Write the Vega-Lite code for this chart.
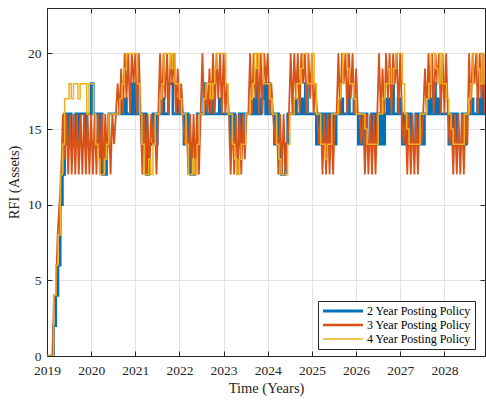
{
"$schema": "https://vega.github.io/schema/vega-lite/v6.json",
"width": 438, "height": 348,
"autosize": "none",
"padding": {"left": 47, "top": 8, "right": 1, "bottom": 44},
"config": {
 "view": {"stroke": "#262626", "strokeWidth": 1},
 "axis": {"labelFont": "Liberation Serif", "labelFontSize": 13.5, "labelColor": "#262626", "titleFont": "Liberation Serif", "titleFontSize": 14.5, "titleFontWeight": "normal", "titleColor": "#262626", "domainColor": "#262626", "tickColor": "#262626", "tickSize": -5, "gridColor": "#e3e3e3", "grid": true, "labelFlush": false}
},
"datasets": {
"w": [
{"t":2019.00,"a":0,"c":0},{"t":2019.05,"a":0,"c":0},{"t":2019.10,"a":0,"c":0},{"t":2019.15,"a":2,"c":4},{"t":2019.20,"a":4,"c":6},
{"t":2019.25,"a":6,"c":8},{"t":2019.30,"a":10,"c":12},{"t":2019.35,"a":12,"c":14},{"t":2019.40,"a":16,"c":17},{"t":2019.45,"a":14,"c":17},
{"t":2019.50,"a":16,"c":18},{"t":2019.55,"a":14,"c":17},{"t":2019.60,"a":14,"c":18},{"t":2019.65,"a":16,"c":18},{"t":2019.70,"a":14,"c":17},
{"t":2019.75,"a":16,"c":18},{"t":2019.80,"a":16,"c":18},{"t":2019.85,"a":14,"c":18},{"t":2019.90,"a":16,"c":16},{"t":2019.95,"a":16,"c":18},
{"t":2020.00,"a":18,"c":18},{"t":2020.05,"a":16,"c":16},{"t":2020.10,"a":16,"c":14},{"t":2020.15,"a":14,"c":13},{"t":2020.20,"a":16,"c":12},
{"t":2020.25,"a":12,"c":12},{"t":2020.30,"a":12,"c":13},{"t":2020.35,"a":14,"c":14},{"t":2020.40,"a":16,"c":16},{"t":2020.45,"a":16,"c":16},
{"t":2020.50,"a":16,"c":16},{"t":2020.55,"a":16,"c":16},{"t":2020.60,"a":16,"c":16},{"t":2020.65,"a":17,"c":17},{"t":2020.70,"a":16,"c":18},
{"t":2020.75,"a":17,"c":19},{"t":2020.80,"a":16,"c":20},{"t":2020.85,"a":16,"c":20},{"t":2020.90,"a":18,"c":20},{"t":2020.95,"a":16,"c":20},
{"t":2021.00,"a":18,"c":20},{"t":2021.05,"a":16,"c":18},{"t":2021.10,"a":16,"c":16},{"t":2021.15,"a":14,"c":14},{"t":2021.20,"a":16,"c":12},
{"t":2021.25,"a":12,"c":12},{"t":2021.30,"a":14,"c":13},{"t":2021.35,"a":14,"c":12},{"t":2021.40,"a":16,"c":14},{"t":2021.45,"a":14,"c":16},
{"t":2021.50,"a":16,"c":16},{"t":2021.55,"a":16,"c":17},{"t":2021.60,"a":17,"c":18},{"t":2021.65,"a":16,"c":20},{"t":2021.70,"a":16,"c":20},
{"t":2021.75,"a":18,"c":20},{"t":2021.80,"a":18,"c":19},{"t":2021.85,"a":16,"c":20},{"t":2021.90,"a":16,"c":18},{"t":2021.95,"a":17,"c":18},
{"t":2022.00,"a":16,"c":17},{"t":2022.05,"a":16,"c":16},{"t":2022.10,"a":14,"c":16},{"t":2022.15,"a":16,"c":14},{"t":2022.20,"a":14,"c":12},
{"t":2022.25,"a":12,"c":12},{"t":2022.30,"a":12,"c":13},{"t":2022.35,"a":14,"c":12},{"t":2022.40,"a":16,"c":14},{"t":2022.45,"a":16,"c":16},
{"t":2022.50,"a":16,"c":16},{"t":2022.55,"a":18,"c":17},{"t":2022.60,"a":16,"c":18},{"t":2022.65,"a":16,"c":18},{"t":2022.70,"a":17,"c":17},
{"t":2022.75,"a":16,"c":18},{"t":2022.80,"a":16,"c":19},{"t":2022.85,"a":16,"c":20},{"t":2022.90,"a":17,"c":20},{"t":2022.95,"a":16,"c":20},
{"t":2023.00,"a":16,"c":20},{"t":2023.05,"a":16,"c":18},{"t":2023.10,"a":16,"c":16},{"t":2023.15,"a":14,"c":16},{"t":2023.20,"a":16,"c":14},
{"t":2023.25,"a":14,"c":13},{"t":2023.30,"a":14,"c":12},{"t":2023.35,"a":16,"c":13},{"t":2023.40,"a":14,"c":14},{"t":2023.45,"a":16,"c":14},
{"t":2023.50,"a":16,"c":16},{"t":2023.55,"a":16,"c":16},{"t":2023.60,"a":16,"c":17},{"t":2023.65,"a":17,"c":18},{"t":2023.70,"a":16,"c":20},
{"t":2023.75,"a":18,"c":19},{"t":2023.80,"a":16,"c":20},{"t":2023.85,"a":17,"c":20},{"t":2023.90,"a":18,"c":18},{"t":2023.95,"a":16,"c":18},
{"t":2024.00,"a":18,"c":18},{"t":2024.05,"a":16,"c":17},{"t":2024.10,"a":16,"c":16},{"t":2024.15,"a":14,"c":16},{"t":2024.20,"a":16,"c":14},
{"t":2024.25,"a":14,"c":13},{"t":2024.30,"a":12,"c":12},{"t":2024.35,"a":12,"c":12},{"t":2024.40,"a":14,"c":12},{"t":2024.45,"a":16,"c":14},
{"t":2024.50,"a":16,"c":16},{"t":2024.55,"a":16,"c":16},{"t":2024.60,"a":17,"c":17},{"t":2024.65,"a":16,"c":18},{"t":2024.70,"a":16,"c":18},
{"t":2024.75,"a":17,"c":19},{"t":2024.80,"a":16,"c":20},{"t":2024.85,"a":18,"c":20},{"t":2024.90,"a":16,"c":18},{"t":2024.95,"a":16,"c":18},
{"t":2025.00,"a":16,"c":20},{"t":2025.05,"a":16,"c":18},{"t":2025.10,"a":14,"c":16},{"t":2025.15,"a":16,"c":16},{"t":2025.20,"a":14,"c":14},
{"t":2025.25,"a":16,"c":14},{"t":2025.30,"a":14,"c":13},{"t":2025.35,"a":16,"c":14},{"t":2025.40,"a":14,"c":14},{"t":2025.45,"a":16,"c":16},
{"t":2025.50,"a":14,"c":16},{"t":2025.55,"a":16,"c":16},{"t":2025.60,"a":16,"c":17},{"t":2025.65,"a":17,"c":18},{"t":2025.70,"a":16,"c":20},
{"t":2025.75,"a":16,"c":20},{"t":2025.80,"a":18,"c":19},{"t":2025.85,"a":16,"c":18},{"t":2025.90,"a":16,"c":18},{"t":2025.95,"a":17,"c":17},
{"t":2026.00,"a":16,"c":16},{"t":2026.05,"a":14,"c":16},{"t":2026.10,"a":16,"c":16},{"t":2026.15,"a":14,"c":16},{"t":2026.20,"a":16,"c":15},
{"t":2026.25,"a":14,"c":14},{"t":2026.30,"a":14,"c":14},{"t":2026.35,"a":16,"c":14},{"t":2026.40,"a":14,"c":14},{"t":2026.45,"a":16,"c":14},
{"t":2026.50,"a":14,"c":16},{"t":2026.55,"a":16,"c":16},{"t":2026.60,"a":14,"c":17},{"t":2026.65,"a":16,"c":18},{"t":2026.70,"a":17,"c":18},
{"t":2026.75,"a":16,"c":19},{"t":2026.80,"a":18,"c":18},{"t":2026.85,"a":16,"c":19},{"t":2026.90,"a":16,"c":20},{"t":2026.95,"a":17,"c":20},
{"t":2027.00,"a":16,"c":20},{"t":2027.05,"a":14,"c":18},{"t":2027.10,"a":16,"c":16},{"t":2027.15,"a":14,"c":15},{"t":2027.20,"a":16,"c":14},
{"t":2027.25,"a":14,"c":14},{"t":2027.30,"a":14,"c":14},{"t":2027.35,"a":16,"c":14},{"t":2027.40,"a":14,"c":14},{"t":2027.45,"a":16,"c":16},
{"t":2027.50,"a":14,"c":16},{"t":2027.55,"a":16,"c":16},{"t":2027.60,"a":16,"c":17},{"t":2027.65,"a":17,"c":18},{"t":2027.70,"a":16,"c":20},
{"t":2027.75,"a":18,"c":20},{"t":2027.80,"a":16,"c":19},{"t":2027.85,"a":17,"c":18},{"t":2027.90,"a":16,"c":20},{"t":2027.95,"a":16,"c":18},
{"t":2028.00,"a":16,"c":18},{"t":2028.05,"a":16,"c":17},{"t":2028.10,"a":14,"c":16},{"t":2028.15,"a":16,"c":15},{"t":2028.20,"a":14,"c":14},
{"t":2028.25,"a":16,"c":14},{"t":2028.30,"a":14,"c":14},{"t":2028.35,"a":14,"c":14},{"t":2028.40,"a":16,"c":14},{"t":2028.45,"a":14,"c":16},
{"t":2028.50,"a":16,"c":16},{"t":2028.55,"a":16,"c":17},{"t":2028.60,"a":17,"c":18},{"t":2028.65,"a":16,"c":20},{"t":2028.70,"a":16,"c":20},
{"t":2028.75,"a":17,"c":19},{"t":2028.80,"a":16,"c":18},{"t":2028.85,"a":18,"c":20},{"t":2028.90,"a":16,"c":18},{"t":2028.95,"a":18,"c":18},{"t":2029.00,"a":18,"c":18}
],
"o": [
{"t":2019.00,"v":0},{"t":2019.04,"v":0},{"t":2019.08,"v":0},{"t":2019.12,"v":0},{"t":2019.16,"v":4},{"t":2019.20,"v":4},{"t":2019.24,"v":8},{"t":2019.28,"v":10},{"t":2019.32,"v":12},{"t":2019.36,"v":16},{"t":2019.40,"v":13},{"t":2019.44,"v":16},{"t":2019.48,"v":12},{"t":2019.52,"v":16},{"t":2019.56,"v":12},{"t":2019.60,"v":16},{"t":2019.64,"v":12},{"t":2019.68,"v":16},{"t":2019.72,"v":12},{"t":2019.76,"v":16},{"t":2019.80,"v":12},{"t":2019.84,"v":16},{"t":2019.88,"v":12},{"t":2019.92,"v":16},{"t":2019.96,"v":12},
{"t":2020.00,"v":16},{"t":2020.04,"v":12},{"t":2020.08,"v":16},{"t":2020.12,"v":12},{"t":2020.16,"v":16},{"t":2020.20,"v":12},{"t":2020.24,"v":16},{"t":2020.28,"v":12},{"t":2020.32,"v":16},{"t":2020.36,"v":13},{"t":2020.40,"v":16},{"t":2020.44,"v":12},{"t":2020.48,"v":16},{"t":2020.52,"v":14},{"t":2020.56,"v":16},{"t":2020.60,"v":18},{"t":2020.64,"v":16},{"t":2020.68,"v":19},{"t":2020.72,"v":16},{"t":2020.76,"v":20},{"t":2020.80,"v":17},{"t":2020.84,"v":20},{"t":2020.88,"v":16},{"t":2020.92,"v":20},{"t":2020.96,"v":18},
{"t":2021.00,"v":20},{"t":2021.04,"v":16},{"t":2021.08,"v":20},{"t":2021.12,"v":16},{"t":2021.16,"v":12},{"t":2021.20,"v":16},{"t":2021.24,"v":12},{"t":2021.28,"v":16},{"t":2021.32,"v":12},{"t":2021.36,"v":16},{"t":2021.40,"v":14},{"t":2021.44,"v":16},{"t":2021.48,"v":12},{"t":2021.52,"v":16},{"t":2021.56,"v":20},{"t":2021.60,"v":16},{"t":2021.64,"v":20},{"t":2021.68,"v":17},{"t":2021.72,"v":20},{"t":2021.76,"v":16},{"t":2021.80,"v":20},{"t":2021.84,"v":18},{"t":2021.88,"v":20},{"t":2021.92,"v":16},{"t":2021.96,"v":19},
{"t":2022.00,"v":16},{"t":2022.04,"v":18},{"t":2022.08,"v":16},{"t":2022.12,"v":14},{"t":2022.16,"v":16},{"t":2022.20,"v":12},{"t":2022.24,"v":16},{"t":2022.28,"v":12},{"t":2022.32,"v":16},{"t":2022.36,"v":12},{"t":2022.40,"v":16},{"t":2022.44,"v":12},{"t":2022.48,"v":16},{"t":2022.52,"v":20},{"t":2022.56,"v":16},{"t":2022.60,"v":18},{"t":2022.64,"v":16},{"t":2022.68,"v":19},{"t":2022.72,"v":16},{"t":2022.76,"v":20},{"t":2022.80,"v":16},{"t":2022.84,"v":20},{"t":2022.88,"v":17},{"t":2022.92,"v":20},{"t":2022.96,"v":16},
{"t":2023.00,"v":20},{"t":2023.04,"v":16},{"t":2023.08,"v":18},{"t":2023.12,"v":16},{"t":2023.16,"v":12},{"t":2023.20,"v":16},{"t":2023.24,"v":12},{"t":2023.28,"v":16},{"t":2023.32,"v":12},{"t":2023.36,"v":16},{"t":2023.40,"v":12},{"t":2023.44,"v":16},{"t":2023.48,"v":13},{"t":2023.52,"v":16},{"t":2023.56,"v":16},{"t":2023.60,"v":20},{"t":2023.64,"v":16},{"t":2023.68,"v":20},{"t":2023.72,"v":17},{"t":2023.76,"v":20},{"t":2023.80,"v":16},{"t":2023.84,"v":20},{"t":2023.88,"v":16},{"t":2023.92,"v":20},{"t":2023.96,"v":18},
{"t":2024.00,"v":20},{"t":2024.04,"v":16},{"t":2024.08,"v":18},{"t":2024.12,"v":16},{"t":2024.16,"v":14},{"t":2024.20,"v":16},{"t":2024.24,"v":12},{"t":2024.28,"v":16},{"t":2024.32,"v":12},{"t":2024.36,"v":16},{"t":2024.40,"v":12},{"t":2024.44,"v":14},{"t":2024.48,"v":16},{"t":2024.52,"v":20},{"t":2024.56,"v":16},{"t":2024.60,"v":20},{"t":2024.64,"v":17},{"t":2024.68,"v":20},{"t":2024.72,"v":16},{"t":2024.76,"v":20},{"t":2024.80,"v":18},{"t":2024.84,"v":20},{"t":2024.88,"v":16},{"t":2024.92,"v":20},{"t":2024.96,"v":17},
{"t":2025.00,"v":20},{"t":2025.04,"v":16},{"t":2025.08,"v":18},{"t":2025.12,"v":16},{"t":2025.16,"v":14},{"t":2025.20,"v":16},{"t":2025.24,"v":12},{"t":2025.28,"v":16},{"t":2025.32,"v":12},{"t":2025.36,"v":16},{"t":2025.40,"v":12},{"t":2025.44,"v":16},{"t":2025.48,"v":12},{"t":2025.52,"v":16},{"t":2025.56,"v":16},{"t":2025.60,"v":20},{"t":2025.64,"v":16},{"t":2025.68,"v":20},{"t":2025.72,"v":18},{"t":2025.76,"v":20},{"t":2025.80,"v":16},{"t":2025.84,"v":20},{"t":2025.88,"v":17},{"t":2025.92,"v":20},{"t":2025.96,"v":16},
{"t":2026.00,"v":19},{"t":2026.04,"v":16},{"t":2026.08,"v":16},{"t":2026.12,"v":14},{"t":2026.16,"v":16},{"t":2026.20,"v":12},{"t":2026.24,"v":16},{"t":2026.28,"v":12},{"t":2026.32,"v":16},{"t":2026.36,"v":12},{"t":2026.40,"v":16},{"t":2026.44,"v":12},{"t":2026.48,"v":16},{"t":2026.52,"v":20},{"t":2026.56,"v":16},{"t":2026.60,"v":19},{"t":2026.64,"v":16},{"t":2026.68,"v":20},{"t":2026.72,"v":17},{"t":2026.76,"v":20},{"t":2026.80,"v":16},{"t":2026.84,"v":20},{"t":2026.88,"v":18},{"t":2026.92,"v":20},{"t":2026.96,"v":16},
{"t":2027.00,"v":20},{"t":2027.04,"v":16},{"t":2027.08,"v":14},{"t":2027.12,"v":16},{"t":2027.16,"v":12},{"t":2027.20,"v":16},{"t":2027.24,"v":12},{"t":2027.28,"v":16},{"t":2027.32,"v":12},{"t":2027.36,"v":16},{"t":2027.40,"v":12},{"t":2027.44,"v":16},{"t":2027.48,"v":14},{"t":2027.52,"v":16},{"t":2027.56,"v":19},{"t":2027.60,"v":16},{"t":2027.64,"v":20},{"t":2027.68,"v":17},{"t":2027.72,"v":20},{"t":2027.76,"v":16},{"t":2027.80,"v":20},{"t":2027.84,"v":18},{"t":2027.88,"v":20},{"t":2027.92,"v":16},{"t":2027.96,"v":20},
{"t":2028.00,"v":16},{"t":2028.04,"v":20},{"t":2028.08,"v":16},{"t":2028.12,"v":14},{"t":2028.16,"v":16},{"t":2028.20,"v":12},{"t":2028.24,"v":16},{"t":2028.28,"v":12},{"t":2028.32,"v":16},{"t":2028.36,"v":12},{"t":2028.40,"v":16},{"t":2028.44,"v":12},{"t":2028.48,"v":16},{"t":2028.52,"v":14},{"t":2028.56,"v":20},{"t":2028.60,"v":16},{"t":2028.64,"v":20},{"t":2028.68,"v":18},{"t":2028.72,"v":20},{"t":2028.76,"v":16},{"t":2028.80,"v":20},{"t":2028.84,"v":17},{"t":2028.88,"v":20},{"t":2028.92,"v":16},{"t":2028.96,"v":18},{"t":2029.00,"v":16}
]
},
"layer": [
 {"data": {"name": "w"},
  "mark": {"type": "line", "interpolate": "step-after", "clip": true, "strokeWidth": 2.6},
  "encoding": {
   "x": {"field": "t", "type": "quantitative", "scale": {"domain": [2019, 2028.92], "nice": false, "zero": false},
         "axis": {"title": "Time (Years)", "values": [2019,2020,2021,2022,2023,2024,2025,2026,2027,2028], "format": "d", "labelPadding": 12, "titlePadding": 5}},
   "y": {"field": "a", "type": "quantitative", "scale": {"domain": [0, 23], "nice": false},
         "axis": {"title": "RFI (Assets)", "values": [0,5,10,15,20], "labelPadding": 11, "titlePadding": 6}},
   "color": {"datum": "2 Year Posting Policy", "type": "nominal",
     "scale": {"domain": ["2 Year Posting Policy","3 Year Posting Policy","4 Year Posting Policy"], "range": ["#0072BD","#D95319","#EDB120"]},
     "legend": {"orient": "none", "legendX": 271, "legendY": 293, "title": null, "symbolType": "M-1,0H7", "symbolSize": 100, "symbolStrokeWidth": 2, "labelFont": "Liberation Serif", "labelFontSize": 12, "labelColor": "#000000", "fillColor": "#ffffff", "strokeColor": "#262626", "padding": 4, "rowPadding": 2, "labelOffset": 33,
       "encode": {"symbols": {"update": {"strokeWidth": {"signal": "datum.value == '2 Year Posting Policy' ? 3 : datum.value == '3 Year Posting Policy' ? 2.4 : 1.6"}}}}}}
  }},
 {"data": {"name": "o"},
  "mark": {"type": "line", "interpolate": "linear", "clip": true, "strokeWidth": 1.8},
  "encoding": {
   "x": {"field": "t", "type": "quantitative", "scale": {"domain": [2019, 2028.92], "nice": false, "zero": false}, "axis": null},
   "y": {"field": "v", "type": "quantitative", "scale": {"domain": [0, 23], "nice": false}, "axis": null},
   "color": {"datum": "3 Year Posting Policy", "type": "nominal"}
  }},
 {"data": {"name": "w"},
  "mark": {"type": "line", "interpolate": "step-after", "clip": true, "strokeWidth": 1.5},
  "encoding": {
   "x": {"field": "t", "type": "quantitative", "scale": {"domain": [2019, 2028.92], "nice": false, "zero": false}, "axis": null},
   "y": {"field": "c", "type": "quantitative", "scale": {"domain": [0, 23], "nice": false}, "axis": null},
   "color": {"datum": "4 Year Posting Policy", "type": "nominal"}
  }},
 {"data": {"name": "w"},
  "mark": {"type": "line", "opacity": 0},
  "encoding": {
   "x": {"field": "t", "type": "quantitative", "axis": {"orient": "top", "labels": false, "title": null, "grid": false, "domain": false, "values": [2019,2020,2021,2022,2023,2024,2025,2026,2027,2028]}},
   "y": {"field": "a", "type": "quantitative", "axis": {"orient": "right", "labels": false, "title": null, "grid": false, "domain": false, "values": [0,5,10,15,20]}}
  }}
],
"resolve": {"axis": {"x": "independent", "y": "independent"}}
}
